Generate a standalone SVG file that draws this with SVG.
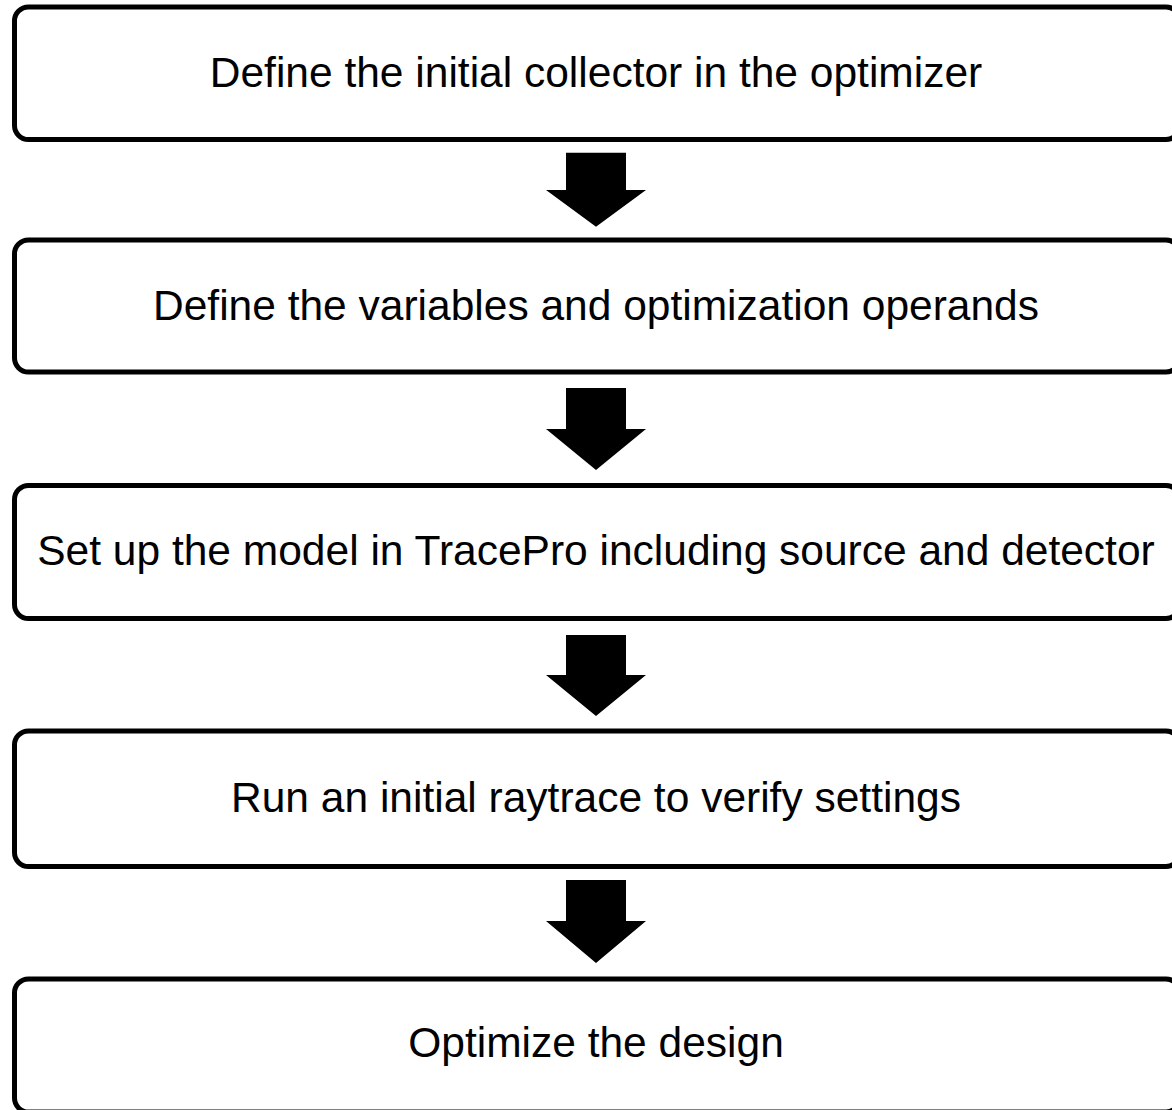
<svg xmlns="http://www.w3.org/2000/svg" width="1172" height="1110" viewBox="0 0 1172 1110">
<style>
.box{fill:#fff;stroke:#000;stroke-width:5}
.lbl{font-family:"Liberation Sans",Arial,sans-serif;font-size:42.5px;fill:#000;text-anchor:middle}
.arr{fill:#000;stroke:none}
</style>
<rect width="1172" height="1110" fill="#fff"/>
<g id="node1"><rect class="box" x="14.5" y="7" width="1165.5" height="132.5" rx="14"/><text class="lbl" x="596" y="87">Define the initial collector in the optimizer</text></g>
<g id="node2"><rect class="box" x="14.5" y="240" width="1165.5" height="132" rx="14"/><text class="lbl" x="596" y="320">Define the variables and optimization operands</text></g>
<g id="node3"><rect class="box" x="14.5" y="485.5" width="1165.5" height="133" rx="14"/><text class="lbl" x="596" y="565">Set up the model in TracePro including source and detector</text></g>
<g id="node4"><rect class="box" x="14.5" y="731" width="1165.5" height="135.5" rx="14"/><text class="lbl" x="596" y="812">Run an initial raytrace to verify settings</text></g>
<g id="node5"><rect class="box" x="14.5" y="979" width="1165.5" height="133" rx="14"/><text class="lbl" x="596" y="1057">Optimize the design</text></g>
<g id="connectors">
<polygon class="arr" points="566,152.7 626,152.7 626,190 646,190 596,226.7 546,190 566,190"/>
<polygon class="arr" points="566,388 626,388 626,429 646,429 596,470 546,429 566,429"/>
<polygon class="arr" points="566,635 626,635 626,675 646,675 596,716 546,675 566,675"/>
<polygon class="arr" points="566,880 626,880 626,921 646,921 596,963 546,921 566,921"/>
</g>
</svg>
